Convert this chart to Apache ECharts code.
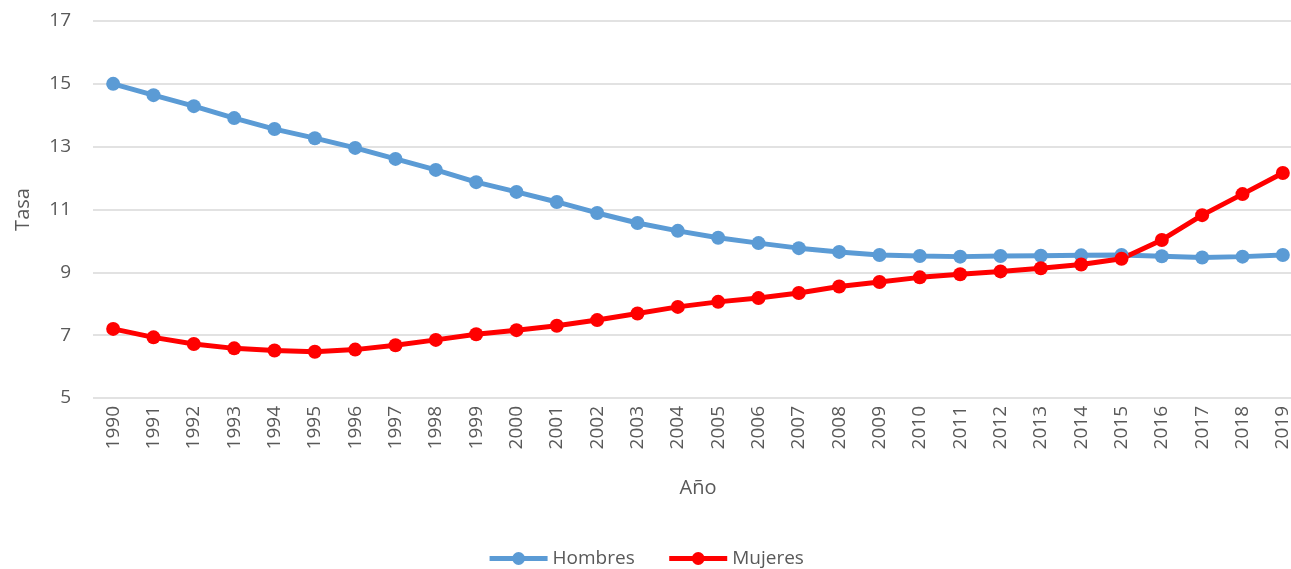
<!DOCTYPE html>
<html>
<head>
<meta charset="utf-8">
<script src="https://cdn.jsdelivr.net/npm/echarts@6/dist/echarts.min.js"></script>
<style>
  html, body { margin: 0; padding: 0; background: #fff; }
  #chart { width: 1291px; height: 569px; }
</style>
</head>
<body>
<div id="chart"></div>
<script>
var years = ['1990','1991','1992','1993','1994','1995','1996','1997','1998','1999',
             '2000','2001','2002','2003','2004','2005','2006','2007','2008','2009',
             '2010','2011','2012','2013','2014','2015','2016','2017','2018','2019'];

var hombres = [15.0, 14.64, 14.29, 13.91, 13.56, 13.27, 12.96, 12.61, 12.26, 11.87,
               11.56, 11.24, 10.89, 10.57, 10.32, 10.1, 9.93, 9.77, 9.65, 9.55,
               9.52, 9.5, 9.52, 9.53, 9.54, 9.55, 9.51, 9.47, 9.5, 9.55];

var mujeres = [7.2, 6.93, 6.72, 6.58, 6.51, 6.47, 6.54, 6.68, 6.85, 7.03,
               7.16, 7.3, 7.48, 7.69, 7.9, 8.06, 8.18, 8.34, 8.55, 8.69,
               8.84, 8.94, 9.03, 9.13, 9.25, 9.43, 10.03, 10.82, 11.49, 12.16];

var yTicks = { min: 5, max: 17, interval: 2 };

var textColor = '#595959';
var font = "'Open Sans', 'Liberation Sans', sans-serif";

var myChart = echarts.init(document.getElementById('chart'));

var option = {
    animation: false,
    textStyle: { fontFamily: font },
    color: ['#5B9BD5', '#FF0000'],
    grid: {
        left: 93,
        top: 21,
        right: -12,
        height: 377,
        outerBoundsMode: 'none'
    },
    legend: {
        bottom: -4,
        left: 'center',
        itemWidth: 58,
        itemHeight: 16,
        itemGap: 32,
        lineStyle: { width: 5 },
        textStyle: { color: textColor, fontSize: 19, fontFamily: font },
        data: ['Hombres', 'Mujeres']
    },
    xAxis: {
        type: 'category',
        data: years,
        boundaryGap: true,
        name: 'Año',
        nameLocation: 'middle',
        nameGap: 80,
        nameTextStyle: { color: textColor, fontSize: 20, fontFamily: font },
        axisLine: { show: false },
        axisTick: { show: false },
        axisLabel: {
            rotate: 90,
            interval: 0,
            margin: 8,
            color: textColor,
            fontSize: 19,
            fontFamily: font
        }
    },
    yAxis: {
        type: 'value',
        min: yTicks.min,
        max: yTicks.max,
        interval: yTicks.interval,
        name: 'Tasa',
        nameLocation: 'middle',
        nameGap: 60,
        nameTextStyle: { color: textColor, fontSize: 20, fontFamily: font },
        axisLine: { show: false },
        axisTick: { show: false },
        axisLabel: { color: textColor, fontSize: 19, margin: 22, fontFamily: font },
        splitLine: { lineStyle: { color: '#D9D9D9', width: 1.5 } }
    },
    series: [
        {
            name: 'Hombres',
            type: 'line',
            data: hombres,
            symbol: 'circle',
            symbolSize: 14,
            lineStyle: { width: 5 }
        },
        {
            name: 'Mujeres',
            type: 'line',
            data: mujeres,
            symbol: 'circle',
            symbolSize: 14,
            lineStyle: { width: 5 }
        }
    ]
};

myChart.setOption(option, true);
</script>
</body>
</html>
